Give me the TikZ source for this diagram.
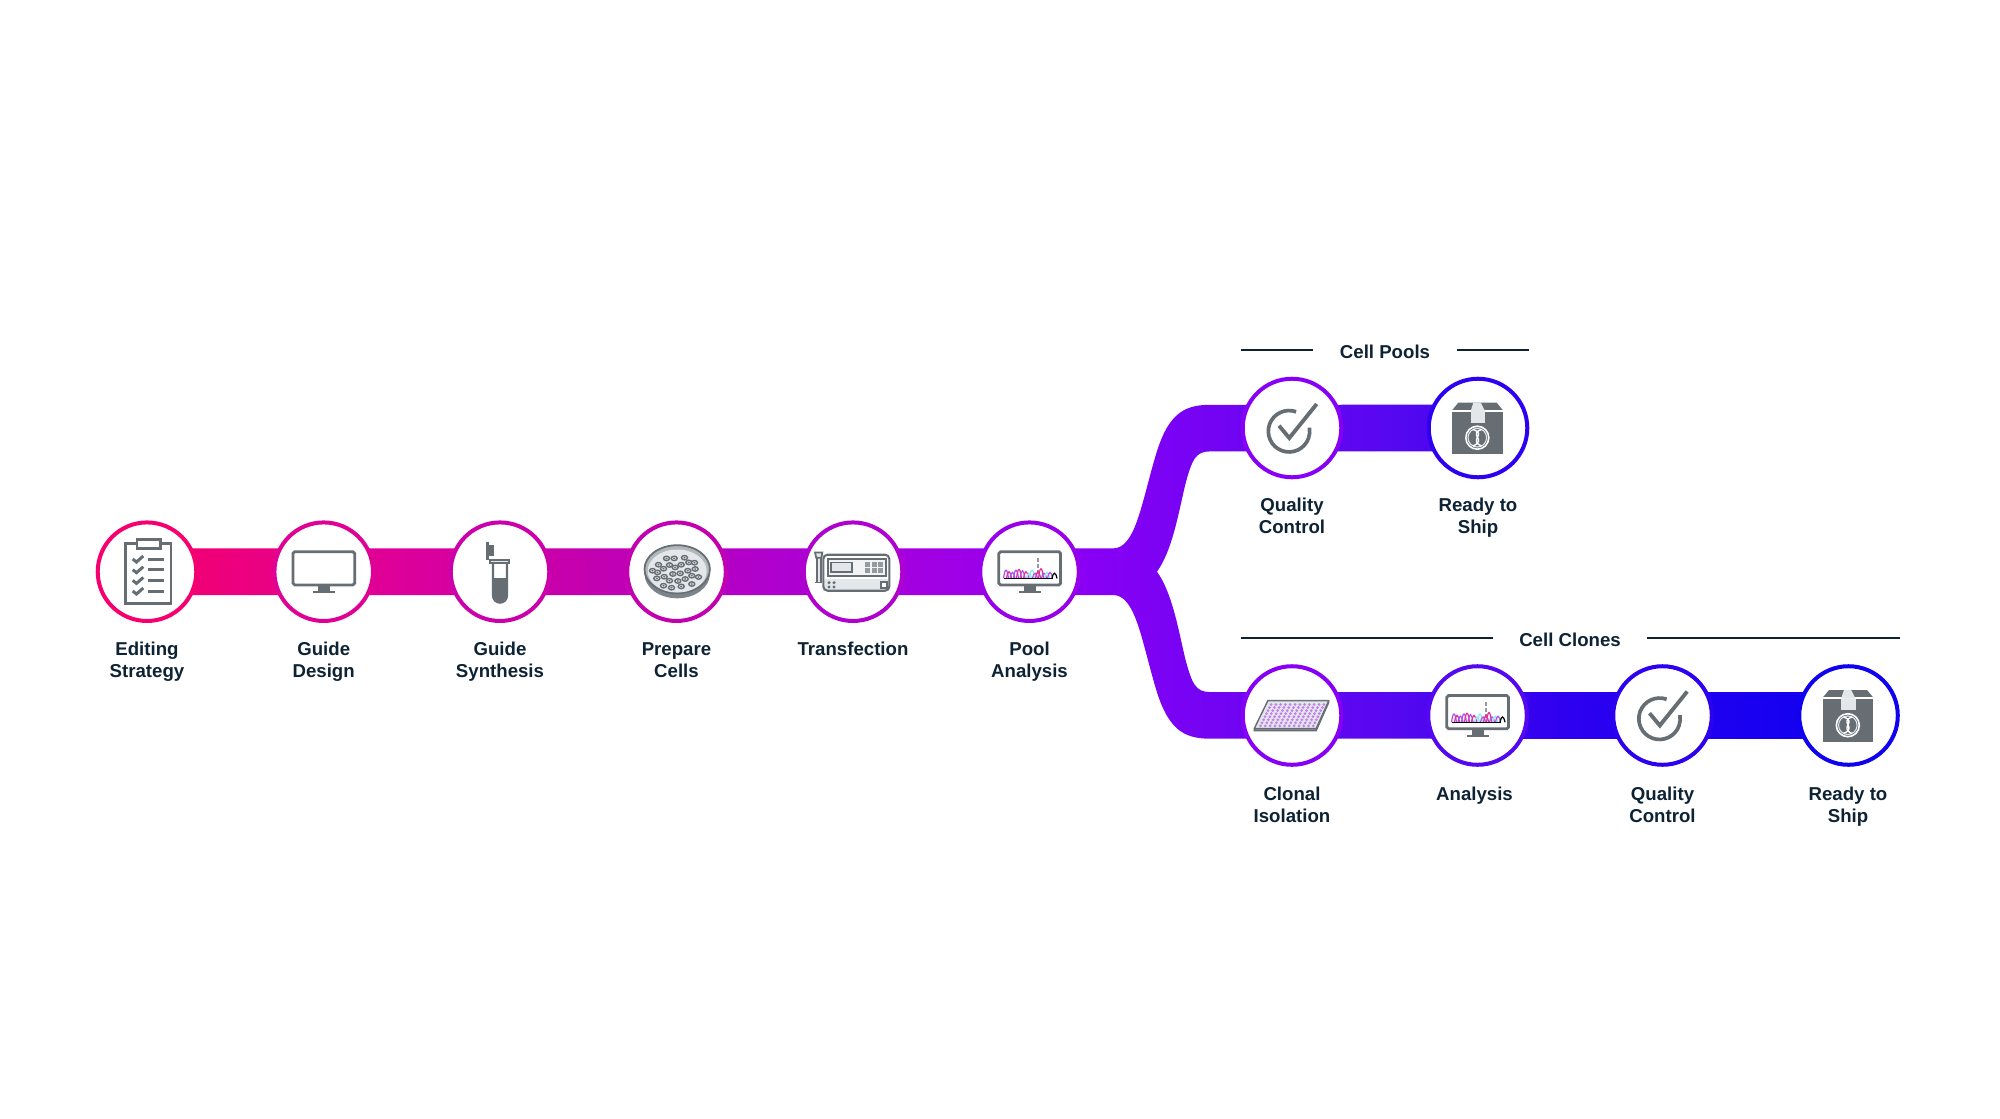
\documentclass[tikz,border=0pt]{standalone}
\usepackage{fontspec}
\setmainfont{Liberation Sans}
\usetikzlibrary{backgrounds}
\definecolor{bandA}{HTML}{F5006E}
\definecolor{bandB}{HTML}{DC009B}
\definecolor{bandC}{HTML}{C300B0}
\definecolor{bandD}{HTML}{AF00CD}
\definecolor{bandE}{HTML}{A000E6}
\definecolor{bandF}{HTML}{8700F5}
\definecolor{bandG}{HTML}{5508F0}
\definecolor{bandH}{HTML}{2D00F0}
\definecolor{bandI}{HTML}{1000F0}
\definecolor{icongray}{HTML}{666E74}
\definecolor{iconlight}{HTML}{E4E7E9}
\definecolor{wellviolet}{HTML}{C47CF0}
\definecolor{tracecyan}{HTML}{8FE6F0}
\definecolor{traceviolet}{HTML}{A855F0}
\definecolor{tracepink}{HTML}{E6309C}
\definecolor{labelink}{HTML}{0D2233}
\pgfdeclarehorizontalshading{bandshade}{100bp}{color(0bp)=(bandA); color(25bp)=(bandA); color(32.7bp)=(bandB); color(38bp)=(bandC); color(43.3bp)=(bandD); color(48.5bp)=(bandE); color(52.9bp)=(bandF); color(61.7bp)=(bandG); color(66.7bp)=(bandH); color(75bp)=(bandI); color(100bp)=(bandI)}
\tikzset{
    stepring/.style={circle, fill=white, minimum size=.985cm, inner sep=0pt, line width=.04cm},
    steplabel/.style={anchor=north, align=center, inner sep=0pt, text=labelink,
        font=\fontsize{5.3}{6.3}\selectfont\bfseries},
    grouptitle/.style={inner xsep=.26cm, inner ysep=0pt, text=labelink,
        font=\fontsize{5.3}{6.3}\selectfont\bfseries},
    grouprule/.style={draw=labelink, line width=.5pt},
    iconline/.style={draw=icongray, line width=.8pt},
    iconthin/.style={draw=icongray, line width=.5pt},
    pics/clipboard/.style={code={
        \draw[iconline] (-21.7,-28) rectangle (24,32);
        \draw[iconline, fill=white] (-10,-32) rectangle (13.3,-23.5);
        \foreach \rowy in {-12.7,-2,8.7,19.3} {
            \draw[icongray, line width=.85pt] (-14.3,\rowy) -- (-10.5,{\rowy+3}) -- (-3.7,{\rowy-3});
            \draw[icongray, line width=.85pt] (.7,\rowy) -- (16.7,\rowy);
        }
    }},
    pics/monitor/.style={code={
        \draw[iconline, rounded corners=.5pt] (-30.7,-20) rectangle (31,13.3);
        \fill[icongray] (-5.5,13.3) rectangle (6,19.5);
        \fill[icongray] (-11,19) rectangle (11,21);
    }},
    pics/tracemonitor/.style={code={
        \pic {monitor};
        \draw[icongray!70, dash pattern=on 1pt off .7pt, line width=.5pt] (8.7,-13.3) -- (8.7,2.3);
        \foreach \peakx/\peakh/\peakc in {-23.5/11/traceviolet, -20.5/9/tracepink, -17/8/traceviolet, -13.5/11/traceviolet, -10.5/12/tracepink, -7/10/traceviolet, -3.5/9/tracepink, -.5/7/tracecyan, 2.5/11/tracecyan, 5.5/7/traceviolet, 8.5/9/tracepink, 11.5/13/tracepink, 14.5/7/traceviolet, 17.5/8/tracecyan, 20.5/8/traceviolet, 25/7/black} {
            \draw[\peakc, line width=.35pt] ({\peakx-2.5},6.7) .. controls ({\peakx-1},{6.7-\peakh}) and ({\peakx+1},{6.7-\peakh}) .. ({\peakx+2.5},6.7);
        }
        \draw[black, line width=.35pt] (-25.7,6.7) -- (23,6.7);
    }},
    pics/tube/.style={code={
        \fill[icongray] (-14,-30) rectangle (-11,-11.7);
        \fill[icongray] (-11,-27) rectangle (-6,-16);
        \fill[icongray] (-6.3,6.3) -- (6.3,6.3) -- (6.3,24) arc[start angle=0, end angle=180, radius=6.3] -- cycle;
        \draw[icongray, line width=.6pt] (-7,-9.3) -- (-7,24) arc[start angle=180, end angle=0, radius=7] -- (7,-9.3);
        \draw[iconthin, fill=iconlight] (-10,-11.7) rectangle (9,-8.6);
    }},
    pics/dish/.style={code={
        \fill[icongray!85] (.7,2.2) ellipse (32.7 and 24.4);
        \draw[iconthin, fill=iconlight!60!icongray] (.7,-2.5) ellipse (32.7 and 24);
        \fill[iconlight] (.7,-.7) ellipse (29.5 and 21.5);
        \foreach \cellx/\celly in {-10/-13.3, -2.3/-13.3, 8/-14, 12.3/-9.3, -18/-7, -7/-6.7, 4.7/-7, -13/-3, -1.3/-4.3, 18.7/-2.7, 11.3/-1, -19/.7, -3.7/2.3, 3.7/1.7, 15.3/4, 22/5.3, -19.7/6.7, -12.3/5, -7/9, 1.3/9.3, 8.7/7.3, -13/14, -5/16, 4.7/14.7, 15.3/12.3, 18/-9, -24/-1} {
            \draw[iconthin, line width=.4pt, fill=iconlight] (\cellx,\celly) ellipse (3 and 2.2);
            \fill[icongray] (\cellx,\celly) ellipse (1.2 and .9);
        }
    }},
    pics/machine/.style={code={
        \fill[iconlight] (-36,-14.3) rectangle (-32.3,10.7);
        \draw[iconthin, fill=iconlight] (-38,-19.3) -- (-30.7,-19.3) -- (-31.5,-14) -- (-36.8,-14) -- cycle;
        \draw[iconthin] (-36,-14) -- (-36,10.7) -- (-38,10.7) -- (-31,10.7) (-32.3,-14) -- (-32.3,10.7);
        \fill[iconlight, rounded corners=2pt] (-29.7,5) rectangle (36.3,19);
        \fill[white] (-29,-16) rectangle (35.5,7.3);
        \draw[iconline, line width=.6pt, rounded corners=1.2pt] (-29.7,-17) rectangle (36.3,19);
        \draw[iconthin, fill=iconlight!50] (-25.3,-12.7) rectangle (33,4);
        \draw[iconthin, fill=iconlight] (-22,-9.3) rectangle (-1.3,0);
        \foreach \keyx in {14.7,21,27.7} {
            \foreach \keyy in {-7.7,-1.7} {
                \fill[icongray!70] ({\keyx-2.5},{\keyy-2.5}) rectangle ({\keyx+2.5},{\keyy+2.5});
            }
        }
        \foreach \keyx in {-24,-19} {
            \foreach \keyy in {11,15.3} {
                \fill[icongray] (\keyx,\keyy) circle (1.7);
            }
        }
        \draw[iconthin, fill=white] (28,10) rectangle (33.7,16.3);
    }},
    pics/checkicon/.style={code={
        \draw[icongray, line width=1.05pt] (4.1,-16.2) arc[start angle=-70, end angle=-370, radius=20.7];
        \draw[icongray, line width=1.1pt] (-13,-2.3) -- (-2.7,10) -- (24.7,-24);
    }},
    pics/shipbox/.style={code={
        \fill[icongray] (-25.7,-16.5) rectangle (24.7,26.3);
        \fill[icongray] (-25.7,-18) -- (-19.7,-25.3) -- (18.7,-25.3) -- (24.7,-18) -- cycle;
        \draw[white, line width=.3pt] (-25.7,-17.5) -- (24.7,-17.5);
        \fill[iconlight] (-7.3,-17) rectangle (7,-5.3);
        \fill[iconlight] (-4.7,-25.3) -- (2.7,-25.3) -- (7,-17) -- (-7.3,-17) -- cycle;
        \draw[white, line width=.45pt] (-.7,9.7) circle (11.5);
        \draw[iconlight, line width=.3pt] (-.7,9.7) circle (9.3);
        \draw[white, line width=.4pt] (-5,1.5) .. controls (9,6) and (-10,12) .. (3.5,18);
        \draw[white, line width=.4pt] (3.5,1.5) .. controls (-10,6) and (9,12) .. (-5,18);
    }},
    pics/wellplate/.style={code={
        \draw[iconthin, fill=icongray!70] (-37.5,15) -- (-37.5,13) -- (-24,-14.7) -- (36.5,-14.7) -- (36.5,-13) -- (24,15) -- cycle;
        \draw[iconthin, line width=.3pt, fill=iconlight] (-37.5,13) -- (-24,-14.7) -- (36.5,-14.7) -- (24,13) -- cycle;
        \foreach \wellr in {0,...,7} {
            \foreach \wellc in {0,...,11} {
                \fill[wellviolet] ({-21-1.5*\wellr+4.8*\wellc},{-11+3.05*\wellr}) circle (1.5);
            }
        }
    }},
}
\begin{document}
\begin{tikzpicture}[x=.01cm, y=-.01cm]
    \useasboundingbox (0,0) rectangle (2000,1118);
    \node[stepring, draw=bandA] (editing) at (147,571.7) {};
    \node[stepring, draw=bandB!85!bandA] (design) at (323.7,571.7) {};
    \node[stepring, draw=bandC!70!bandB] (synthesis) at (500,571.7) {};
    \node[stepring, draw=bandC] (prepare) at (676.5,571.7) {};
    \node[stepring, draw=bandD] (transfection) at (853,571.7) {};
    \node[stepring, draw=bandE!70!bandF] (poolanalysis) at (1029.5,571.7) {};
    \node[stepring, draw=bandF] (qcpools) at (1292,428) {};
    \node[stepring, draw=bandH] (shippools) at (1478,428) {};
    \node[stepring, draw=bandF] (clonal) at (1292,715.5) {};
    \node[stepring, draw=bandG] (analysis) at (1477.5,715.5) {};
    \node[stepring, draw=bandH] (qcclones) at (1662.5,715.5) {};
    \node[stepring, draw=bandI] (shipclones) at (1848.5,715.5) {};
    \begin{pgfonlayer}{background}
        \shade[shading=bandshade] ([yshift=.233cm]editing.center) -- (1113,548.4)
            .. controls (1135,548.4) and (1141,505.7) .. (1155,457.7)
            .. controls (1167,415.7) and (1182,404.8) .. (1210,404.8)
            -- ([yshift=.233cm]shippools.center) -- ([yshift=-.233cm]shippools.center) -- (1210,451.4)
            .. controls (1196,451.4) and (1192,458.7) .. (1185,485.7)
            .. controls (1178,515.7) and (1172,550.7) .. (1157,571.7)
            .. controls (1172,592.7) and (1178,627.7) .. (1185,657.7)
            .. controls (1192,684.7) and (1196,692) .. (1210,692)
            -- ([yshift=.233cm]shipclones.center) -- ([yshift=-.233cm]shipclones.center) -- (1210,738.7)
            .. controls (1182,738.7) and (1167,727.7) .. (1155,685.7)
            .. controls (1141,637.7) and (1135,595) .. (1113,595)
            -- ([yshift=-.233cm]editing.center) -- cycle;
    \end{pgfonlayer}
    \pic at (147,571.7) {clipboard};
    \pic at (323.7,571.7) {monitor};
    \pic at (500,571.7) {tube};
    \pic at (676.5,571.7) {dish};
    \pic at (853,571.7) {machine};
    \pic at (1029.5,571.7) {tracemonitor};
    \pic at (1292,428) {checkicon};
    \pic at (1478,428) {shipbox};
    \pic at (1292,715.5) {wellplate};
    \pic at (1477.5,715.5) {tracemonitor};
    \pic at (1662.5,715.5) {checkicon};
    \pic at (1848.5,715.5) {shipbox};
    \node[steplabel] (editinglabel) at (147,641.5) {Editing\\Strategy};
    \node[steplabel] (designlabel) at (323.7,641.5) {Guide\\Design};
    \node[steplabel] (synthesislabel) at (500,641.5) {Guide\\Synthesis};
    \node[steplabel] (preparelabel) at (676.5,641.5) {Prepare\\Cells};
    \node[steplabel] (transfectionlabel) at (853,641.5) {Transfection};
    \node[steplabel] (poolanalysislabel) at (1029.5,641.5) {Pool\\Analysis};
    \node[steplabel] (qcpoolslabel) at (1292,497) {Quality\\Control};
    \node[steplabel] (shippoolslabel) at (1478,497) {Ready to\\Ship};
    \node[steplabel] (clonallabel) at (1292,786) {Clonal\\Isolation};
    \node[steplabel] (analysislabel) at (1474.5,786) {Analysis};
    \node[steplabel] (qccloneslabel) at (1662.5,786) {Quality\\Control};
    \node[steplabel] (shipcloneslabel) at (1848,786) {Ready to\\Ship};
    \node[grouptitle] (pools) at (1385,351.5) {Cell Pools};
    \node[grouptitle] (clones) at (1570,639.5) {Cell Clones};
    \coordinate (poolsleft) at (1241,350);
    \coordinate (poolsright) at (1529,350);
    \coordinate (clonesleft) at (1241,638);
    \coordinate (clonesright) at (1899.5,638);
    \draw[grouprule] (poolsleft) -- (poolsleft -| pools.west);
    \draw[grouprule] (poolsright) -- (poolsright -| pools.east);
    \draw[grouprule] (clonesleft) -- (clonesleft -| clones.west);
    \draw[grouprule] (clonesright) -- (clonesright -| clones.east);
\end{tikzpicture}
\end{document}
